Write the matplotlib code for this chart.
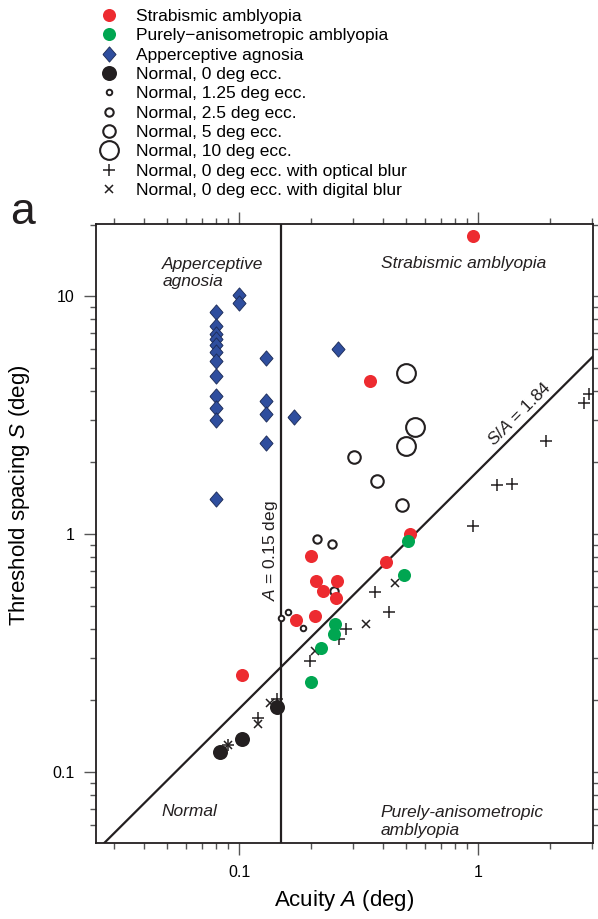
import matplotlib
matplotlib.use('Agg')
import matplotlib.pyplot as plt
from matplotlib.lines import Line2D
from matplotlib.ticker import LogLocator, FixedLocator, FixedFormatter, NullFormatter

plt.rcParams['font.family'] = ['Liberation Sans', 'DejaVu Sans']
plt.rcParams['mathtext.fontset'] = 'custom'
plt.rcParams['mathtext.rm'] = 'Liberation Sans'
plt.rcParams['mathtext.it'] = 'Liberation Sans:italic'

# data: acuity A (deg), threshold spacing S (deg)
strab_A = [0.953, 0.353, 0.519, 0.200, 0.210, 0.258, 0.225, 0.2545, 0.207, 0.412, 0.173, 0.103]
strab_S = [17.9, 4.40, 1.00, 0.805, 0.636, 0.636, 0.577, 0.536, 0.453, 0.765, 0.436, 0.256]

aniso_A = [0.511, 0.491, 0.252, 0.250, 0.220, 0.200]
aniso_S = [0.931, 0.669, 0.420, 0.379, 0.330, 0.239]

agnosia_A = [0.08] * 12 + [0.10, 0.10, 0.13, 0.13, 0.13, 0.13, 0.17, 0.26]
agnosia_S = [8.56, 7.46, 6.95, 6.62, 6.20, 5.81, 5.33, 4.61, 3.82, 3.39, 3.00, 1.40,
             10.07, 9.34, 5.51, 3.61, 3.20, 2.41, 3.10, 6.01]

ecc0_A = [0.0833, 0.1026, 0.1438]
ecc0_S = [0.1216, 0.137, 0.1876]

ecc125_A = [0.1498, 0.161, 0.1858]
ecc125_S = [0.443, 0.471, 0.401]

ecc25_A = [0.2127, 0.2457, 0.250]
ecc25_S = [0.953, 0.908, 0.577]

ecc5_A = [0.4795, 0.379, 0.3037]
ecc5_S = [1.325, 1.676, 2.10]

ecc10_A = [0.4996, 0.545, 0.4996]
ecc10_S = [4.74, 2.81, 2.35]

optical_A = [0.0902, 0.1205, 0.1438, 0.198, 0.263, 0.280, 0.370, 0.4255,
             0.956, 1.197, 1.384, 1.925, 2.776, 2.905]
optical_S = [0.1298, 0.169, 0.202, 0.293, 0.361, 0.398, 0.568, 0.471,
             1.083, 1.608, 1.623, 2.47, 3.55, 3.88]

digital_A = [0.0902, 0.1205, 0.1348, 0.208, 0.340, 0.4494]
digital_S = [0.1298, 0.1586, 0.1956, 0.321, 0.418, 0.622]

critical_A = 0.15
ratio = 1.84

RED = '#ED2B30'
GREEN = '#00A651'
BLUE = '#2F4E9E'
BLACK = '#231F20'
FS = 12.5

fig = plt.figure(figsize=(5.98, 9.19), dpi=100)
ax = fig.add_axes([96 / 598, 1 - 843 / 919, 497 / 598, 619 / 919])
ax.set_xscale('log')
ax.set_yscale('log')
xlim = (0.0252, 3.03)
ax.set_xlim(*xlim)
ax.set_ylim(0.0502, 20.1)

# reference lines
ax.plot(xlim, [ratio * xlim[0], ratio * xlim[1]], color=BLACK, lw=1.6, zorder=1)
ax.axvline(critical_A, color=BLACK, lw=1.6, zorder=1)

diamond = [(-0.43, 0), (0, 0.5), (0.43, 0), (0, -0.5), (-0.43, 0)]

ax.plot(ecc125_A, ecc125_S, 'o', ms=4.0, mfc='white', mec=BLACK, mew=1.4, zorder=3)
ax.plot(ecc25_A, ecc25_S, 'o', ms=6.0, mfc='white', mec=BLACK, mew=1.5, zorder=3)
ax.plot(ecc5_A, ecc5_S, 'o', ms=9.0, mfc='white', mec=BLACK, mew=1.5, zorder=3)
ax.plot(ecc10_A, ecc10_S, 'o', ms=13.5, mfc='white', mec=BLACK, mew=1.5, zorder=3)
ax.plot(optical_A, optical_S, '+', ms=8.5, mec=BLACK, mew=1.1, zorder=3)
ax.plot(digital_A, digital_S, 'x', ms=6.0, mec=BLACK, mew=1.1, zorder=3)
ax.plot(strab_A, strab_S, 'o', ms=9.4, mfc=RED, mec='none', zorder=4)
ax.plot(aniso_A, aniso_S, 'o', ms=9.4, mfc=GREEN, mec='none', zorder=5)
ax.plot(agnosia_A, agnosia_S, marker=diamond, ls='none', ms=11, mfc=BLUE, mec='#1B2A55', mew=0.6, zorder=5)
ax.plot(ecc0_A, ecc0_S, 'o', ms=10.8, mfc=BLACK, mec='none', zorder=6)

# ticks
ax.xaxis.set_major_locator(FixedLocator([0.1, 1]))
ax.xaxis.set_major_formatter(FixedFormatter(['0.1', '1']))
ax.yaxis.set_major_locator(FixedLocator([0.1, 1, 10]))
ax.yaxis.set_major_formatter(FixedFormatter(['0.1', '1', '10']))
ax.xaxis.set_minor_locator(LogLocator(base=10, subs=range(2, 10)))
ax.yaxis.set_minor_locator(LogLocator(base=10, subs=range(2, 10)))
ax.xaxis.set_minor_formatter(NullFormatter())
ax.yaxis.set_minor_formatter(NullFormatter())
ax.tick_params(which='both', direction='out', top=True, right=True, labelsize=11.5,
               color='#555555', width=1.0)
ax.tick_params(which='major', length=8.5, pad=7)
ax.tick_params(which='minor', length=4.5)
for s in ax.spines.values():
    s.set_linewidth(1.3)
    s.set_color(BLACK)

ax.set_xlabel('Acuity $\\mathit{A}$ (deg)', fontsize=16, labelpad=6)
ax.set_ylabel('Threshold spacing $\\mathit{S}$ (deg)', fontsize=16)
ax.yaxis.set_label_coords(-0.129, 0.562)

# region labels
ax.text(0.0477, 14.6, 'Apperceptive\nagnosia', style='italic', fontsize=FS, ha='left', va='top',
        linespacing=1.15, color=BLACK)
ax.text(0.3926, 13.7, 'Strabismic amblyopia', style='italic', fontsize=FS, ha='left', va='center',
        color=BLACK)
ax.text(0.0472, 0.0678, 'Normal', style='italic', fontsize=FS, ha='left', va='center', color=BLACK)
ax.text(0.3926, 0.0618, 'Purely-anisometropic\namblyopia', style='italic', fontsize=FS, ha='left',
        va='center', linespacing=1.2, color=BLACK)
ax.text(0.1348, 0.85, '$\\mathit{A}$ = 0.15 deg', rotation=90, fontsize=FS, ha='center', va='center',
        color=BLACK)
ax.text(1.484, 3.21, '$\\mathit{S/A}$ = 1.84', rotation=45, fontsize=FS, ha='center', va='center',
        rotation_mode='anchor', color=BLACK)

fig.text(10 / 598, 1 - 212 / 919, 'a', fontsize=32, ha='left', va='center', color=BLACK)

# legend
handles = [
    Line2D([], [], ls='none', marker='o', ms=9.4, mfc=RED, mec='none'),
    Line2D([], [], ls='none', marker='o', ms=9.4, mfc=GREEN, mec='none'),
    Line2D([], [], ls='none', marker=diamond, ms=11, mfc=BLUE, mec='#1B2A55', mew=0.6),
    Line2D([], [], ls='none', marker='o', ms=10.8, mfc=BLACK, mec='none'),
    Line2D([], [], ls='none', marker='o', ms=4.0, mfc='white', mec=BLACK, mew=1.4),
    Line2D([], [], ls='none', marker='o', ms=6.0, mfc='white', mec=BLACK, mew=1.5),
    Line2D([], [], ls='none', marker='o', ms=9.0, mfc='white', mec=BLACK, mew=1.5),
    Line2D([], [], ls='none', marker='o', ms=13.5, mfc='white', mec=BLACK, mew=1.5),
    Line2D([], [], ls='none', marker='+', ms=8.5, mec=BLACK, mew=1.1),
    Line2D([], [], ls='none', marker='x', ms=6.0, mec=BLACK, mew=1.1),
]
labels = [
    'Strabismic amblyopia',
    'Purely\u2212anisometropic amblyopia',
    'Apperceptive agnosia',
    'Normal, 0 deg ecc.',
    'Normal, 1.25 deg ecc.',
    'Normal, 2.5 deg ecc.',
    'Normal, 5 deg ecc.',
    'Normal, 10 deg ecc.',
    'Normal, 0 deg ecc. with optical blur',
    'Normal, 0 deg ecc. with digital blur',
]
fig.legend(handles, labels, loc='upper left', bbox_to_anchor=(100 / 598, 1 - 9 / 919),
           frameon=False, fontsize=FS, handlelength=1.0, handletextpad=1.1,
           labelspacing=0.24, borderpad=0, borderaxespad=0)

fig.savefig('out.png', dpi=100)
